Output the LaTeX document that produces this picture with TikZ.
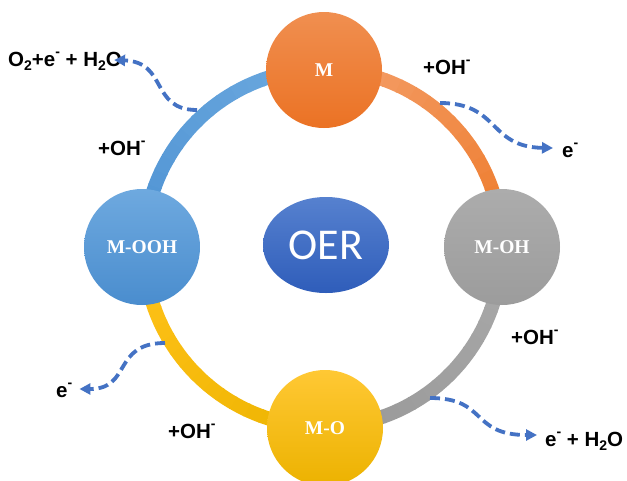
\documentclass[tikz,border=0pt]{standalone}
\usepackage{fontspec}
\newfontfamily\labfont{Liberation Sans}
\newfontfamily\cirfont{Liberation Serif}
\newfontfamily\oerfont{Carlito}
\usetikzlibrary{arrows.meta,calc,shapes.geometric}

\newcommand\mysub[1]{\raisebox{-0.22em}{\fontsize{14}{14}\selectfont #1}}
\newcommand\mysup[1]{\raisebox{0.45em}{\fontsize{14}{14}\selectfont #1}}

\definecolor{orA}{HTML}{F4A06C}
\definecolor{orB}{HTML}{EE7A2A}
\definecolor{grA}{HTML}{A9A9A9}
\definecolor{grB}{HTML}{989898}
\definecolor{yeA}{HTML}{EDB400}
\definecolor{yeB}{HTML}{FFC21A}
\definecolor{blA}{HTML}{4F93D3}
\definecolor{blB}{HTML}{6CA9DF}
\definecolor{arrowblue}{HTML}{4472C4}

\begin{document}
\begin{tikzpicture}[x=1pt,y=-1pt,
  lab/.style={font=\labfont\bfseries\fontsize{20.5}{24}\selectfont, inner sep=0pt, anchor=base west},
  stage/.style={circle, minimum size=116pt, inner sep=0pt, text=white,
    font=\cirfont\bfseries\fontsize{19.5}{21}\selectfont},
  eflow/.style={draw=arrowblue, line width=3.8pt, dash pattern=on 10pt off 5pt,
    -{Triangle[length=11pt,width=11pt]}},
]
\fill[white] (0,0) rectangle (627,480);
\useasboundingbox (0,0) rectangle (627,480);

\coordinate (ring) at (323,248);

% ring arcs with gradient
\foreach \ca/\cb/\s in {orA/orB/270, grA/grB/0, yeA/yeB/90, blA/blB/180} {
  \foreach \i in {0,...,17} {
    \pgfmathtruncatemacro\p{100-\i*100/17}
    \pgfmathsetmacro\sa{\s+\i*5}
    \pgfmathsetmacro\ea{\s+\i*5+5.4}
    \draw[line width=14pt, \ca!\p!\cb] ($(ring)+(\sa:179)$) arc[start angle=\sa, end angle=\ea, radius=179];
  }
}

% stage circles
\node[stage, shading=axis, top color={rgb,255:red,240;green,143;blue,80}, bottom color={rgb,255:red,235;green,114;blue,36}] (m) at (324,70) {M};
\node[stage, shading=axis, top color={rgb,255:red,172;green,172;blue,172}, bottom color={rgb,255:red,156;green,156;blue,156}] (moh) at (502,247) {M-OH};
\node[stage, shading=axis, top color={rgb,255:red,255;green,200;blue,52}, bottom color={rgb,255:red,236;green,178;blue,0}] (mo) at (325,428) {M-O};
\node[stage, shading=axis, top color={rgb,255:red,110;green,169;blue,223}, bottom color={rgb,255:red,74;green,141;blue,206}] (mooh) at (142,247) {M-OOH};

% centre
\node[ellipse, minimum width=126pt, minimum height=96pt, inner sep=0pt, shading=axis,
  top color={rgb,255:red,86;green,129;blue,207}, bottom color={rgb,255:red,47;green,93;blue,186},
  text=white, font=\oerfont\fontsize{44}{48}\selectfont] (oer) at (326,245) {OER};

% labels
\node[lab] (lo2) at (8,66) {O\mysub{2}+e\mysup{-} + H\mysub{2}O};
\node[lab] (loh1) at (98,155) {+OH\mysup{-}};
\node[lab] (loh2) at (423,74) {+OH\mysup{-}};
\node[lab] (le1) at (562,157) {e\mysup{-}};
\node[lab] (loh3) at (511,344) {+OH\mysup{-}};
\node[lab] (le2) at (545,446) {e\mysup{-} + H\mysub{2}O};
\node[lab] (le3) at (56,397) {e\mysup{-}};
\node[lab] (loh4) at (168,438) {+OH\mysup{-}};

% electron flow arrows
\coordinate (s1) at (197,110);
\coordinate (s2) at (440,103);
\coordinate (s3) at (165,343);
\coordinate (s4) at (430,398);

\draw[eflow] (s1) .. controls (150,110) and (168,62) .. ($(lo2.base east)+(-8,-6)$);
\draw[eflow] (s2) .. controls (500,103) and (488,147) .. ($(le1.base west)+(-9,-9)$);
\draw[eflow] (s3) .. controls (112,343) and (132,389) .. ($(le3.base east)+(7,-8)$);
\draw[eflow] (s4) .. controls (488,398) and (470,435) .. ($(le2.base west)+(-8,-11)$);
\end{tikzpicture}
\end{document}
